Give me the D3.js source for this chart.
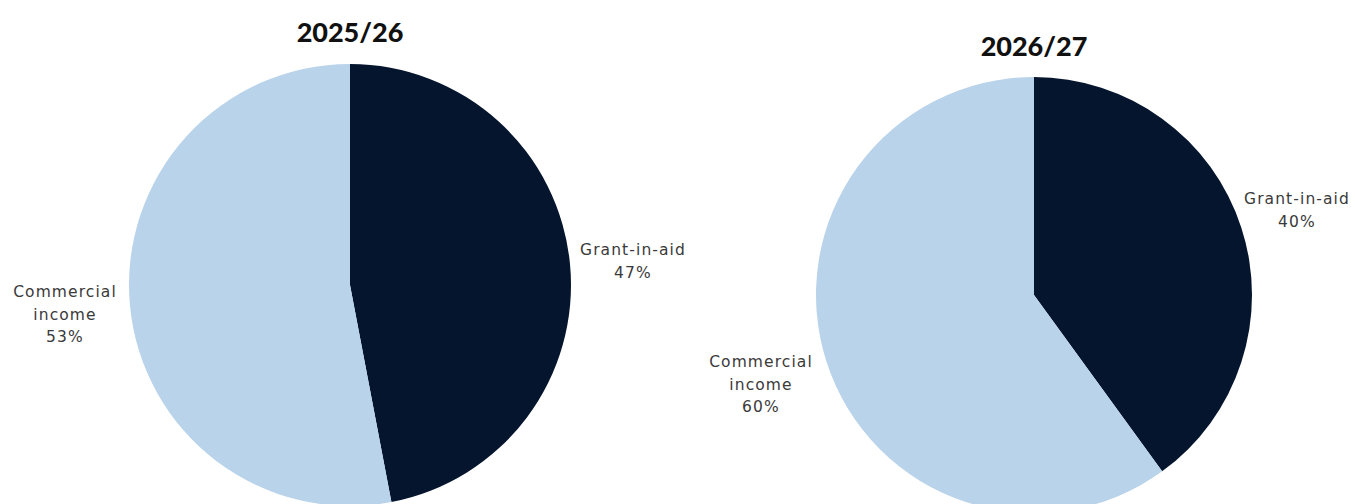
<!DOCTYPE html>
<html>
<head>
<meta charset="utf-8">
<script src="https://cdn.jsdelivr.net/npm/d3@7"></script>
<style>
  body { margin: 0; background: #fff; }
  svg { display: block; }
</style>
</head>
<body>
<div id="chart"></div>
<script>
// data
var years = ["2025/26", "2026/27"];
var categories = ["Grant-in-aid", "Commercial income"];
var grantInAid = [47, 40];
var commercialIncome = [53, 60];

var width = 1355;
var height = 504;

var colors = d3.scaleOrdinal()
    .domain(categories)
    .range(["#06152e", "#b9d3ea"]);

// layout of each pie
var pies = [
    { cx: 350, cy: 285, r: 221, titleY: 42,
      labels: [ { x: 633, y: 255, lines: ["Grant-in-aid"] }, { x: 65, y: 297, lines: ["Commercial", "income"] } ] },
    { cx: 1034, cy: 295, r: 218, titleY: 56,
      labels: [ { x: 1297, y: 204, lines: ["Grant-in-aid"] }, { x: 761, y: 367, lines: ["Commercial", "income"] } ] }
];

var svg = d3.select("#chart").append("svg")
    .attr("width", width)
    .attr("height", height);

var pie = d3.pie().sort(null).value(d => d.value);

years.forEach(function(year, i) {
    var p = pies[i];
    var data = [
        { name: categories[0], value: grantInAid[i] },
        { name: categories[1], value: commercialIncome[i] }
    ];
    var arc = d3.arc().innerRadius(0).outerRadius(p.r);

    var g = svg.append("g")
        .attr("transform", `translate(${p.cx}, ${p.cy})`);

    g.selectAll("path")
        .data(pie(data))
        .enter()
        .append("path")
        .attr("d", arc)
        .attr("fill", d => colors(d.data.name));

    // title
    svg.append("text")
        .attr("x", p.cx)
        .attr("y", p.titleY)
        .attr("text-anchor", "middle")
        .attr("font-family", "Lato, 'Open Sans', sans-serif")
        .attr("font-weight", "900")
        .attr("font-size", 27)
        .attr("fill", "#111")
        .text(year);

    // labels
    data.forEach(function(d, j) {
        var lab = p.labels[j];
        var t = svg.append("text")
            .attr("text-anchor", "middle")
            .attr("font-family", "'DejaVu Sans', sans-serif")
            .attr("font-size", 15.5)
            .attr("letter-spacing", 1.1)
            .attr("fill", "#3a3a3a");
        lab.lines.concat([d.value + "%"]).forEach(function(line, k) {
            t.append("tspan")
                .attr("x", lab.x)
                .attr("y", lab.y + k * 22.5)
                .text(line);
        });
    });
});
</script>
</body>
</html>
